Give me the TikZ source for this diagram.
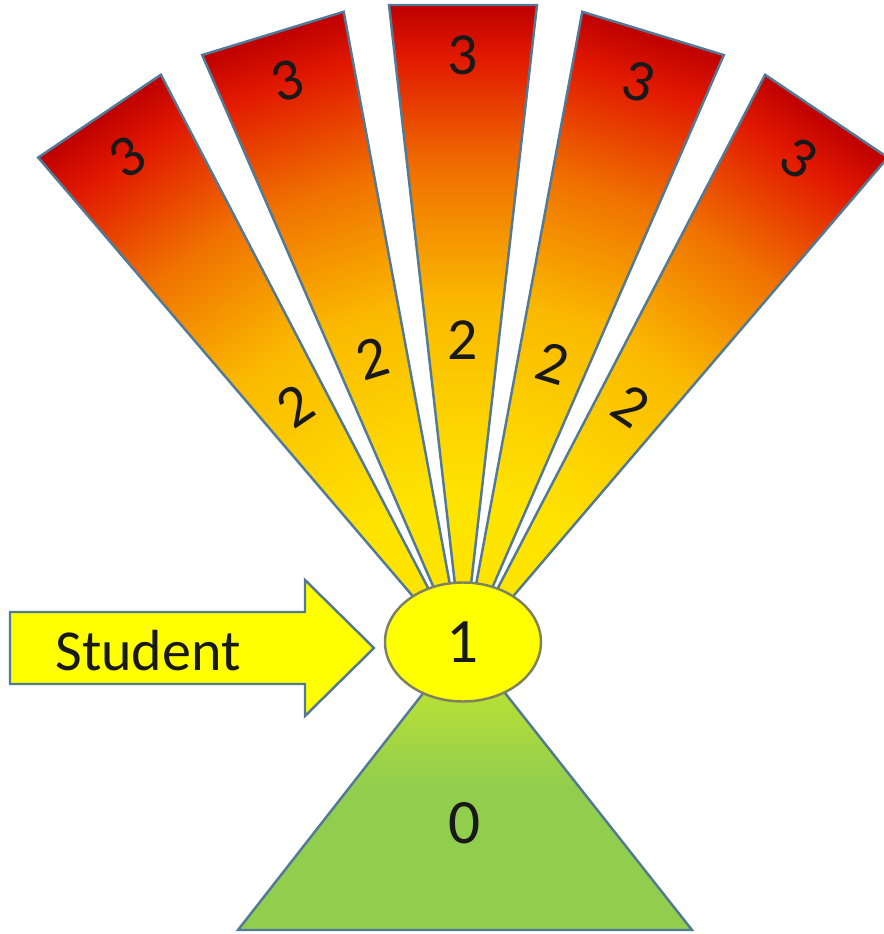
\documentclass[tikz,border=0pt]{standalone}
\usepackage{fontspec}
\setmainfont{Carlito}
\usetikzlibrary{shapes.geometric}
\usepackage{xcolor}
\definecolor{edgeblue}{RGB}{82,122,150}
\definecolor{ringedge}{RGB}{125,130,95}
\definecolor{wedgeyellow}{RGB}{255,228,0}
\definecolor{wedgegold}{RGB}{250,185,0}
\definecolor{wedgeorange}{RGB}{240,115,0}
\definecolor{wedgered}{RGB}{225,25,0}
\definecolor{wedgedark}{RGB}{190,0,0}
\definecolor{trilime}{RGB}{205,232,40}
\definecolor{trigreen}{RGB}{146,206,78}
\definecolor{sunyellow}{RGB}{255,255,0}
\definecolor{inkblack}{RGB}{25,25,25}
\pgfdeclareverticalshading{wedgefade}{100bp}{color(0bp)=(wedgeyellow); color(37bp)=(wedgeyellow); color(52bp)=(wedgegold); color(62bp)=(wedgeorange); color(71bp)=(wedgered); color(75bp)=(wedgedark); color(100bp)=(wedgedark)}

\begin{document}
\begin{tikzpicture}[font=\fontsize{17}{19}\selectfont,
  wedgeshape/.style={draw=edgeblue,line width=0.7pt,shading=wedgefade},
  digit/.style={text=inkblack,inner sep=0pt}]
\useasboundingbox (0,0) rectangle (8.84,9.34);
\coordinate (apex) at (4.63,2.79);
% fan of wedges
\foreach \a/\i/\r in {34/1/3.0,17/2/3.1,0/3/3.15,-17/4/3.05,-34/5/3.0}{
  \begin{scope}[transform canvas={rotate around={\a:(apex)}}]
    \draw[wedgeshape] (apex) -- ++(-0.74,6.5) -- ++(1.48,0) -- cycle;
  \end{scope}
  \node[digit,rotate=\a] (top\i) at ([shift={(90+\a:6.0)}]apex) {3};
  \node[digit,rotate=\a] (mid\i) at ([shift={(90+\a:\r)}]apex) {2};
}
% base triangle
\draw[draw=edgeblue,line width=0.7pt,top color=trilime,bottom color=trigreen,middle color=trigreen]
  (4.64,2.93) -- (6.92,0.04) -- (2.38,0.04) -- cycle;
\node[digit,font=\fontsize{18}{20}\selectfont] (zero) at (4.65,1.11) {0};
% centre
\node[ellipse,draw=ringedge,line width=0.7pt,fill=sunyellow,minimum width=1.56cm,
  minimum height=1.19cm,inner sep=0pt,text=inkblack,font=\fontsize{18}{20}\selectfont] (one) at (4.63,2.92) {1};
% student arrow
\draw[draw=edgeblue,line width=0.7pt,fill=sunyellow] (0.10,3.22) -- (3.05,3.22) -- (3.05,3.54)
  -- (3.74,2.86) -- (3.05,2.18) -- (3.05,2.50) -- (0.10,2.50) -- cycle;
\node[digit,font=\fontsize{16.5}{18}\selectfont] (student) at (1.48,2.83) {Student};
\end{tikzpicture}
\end{document}
